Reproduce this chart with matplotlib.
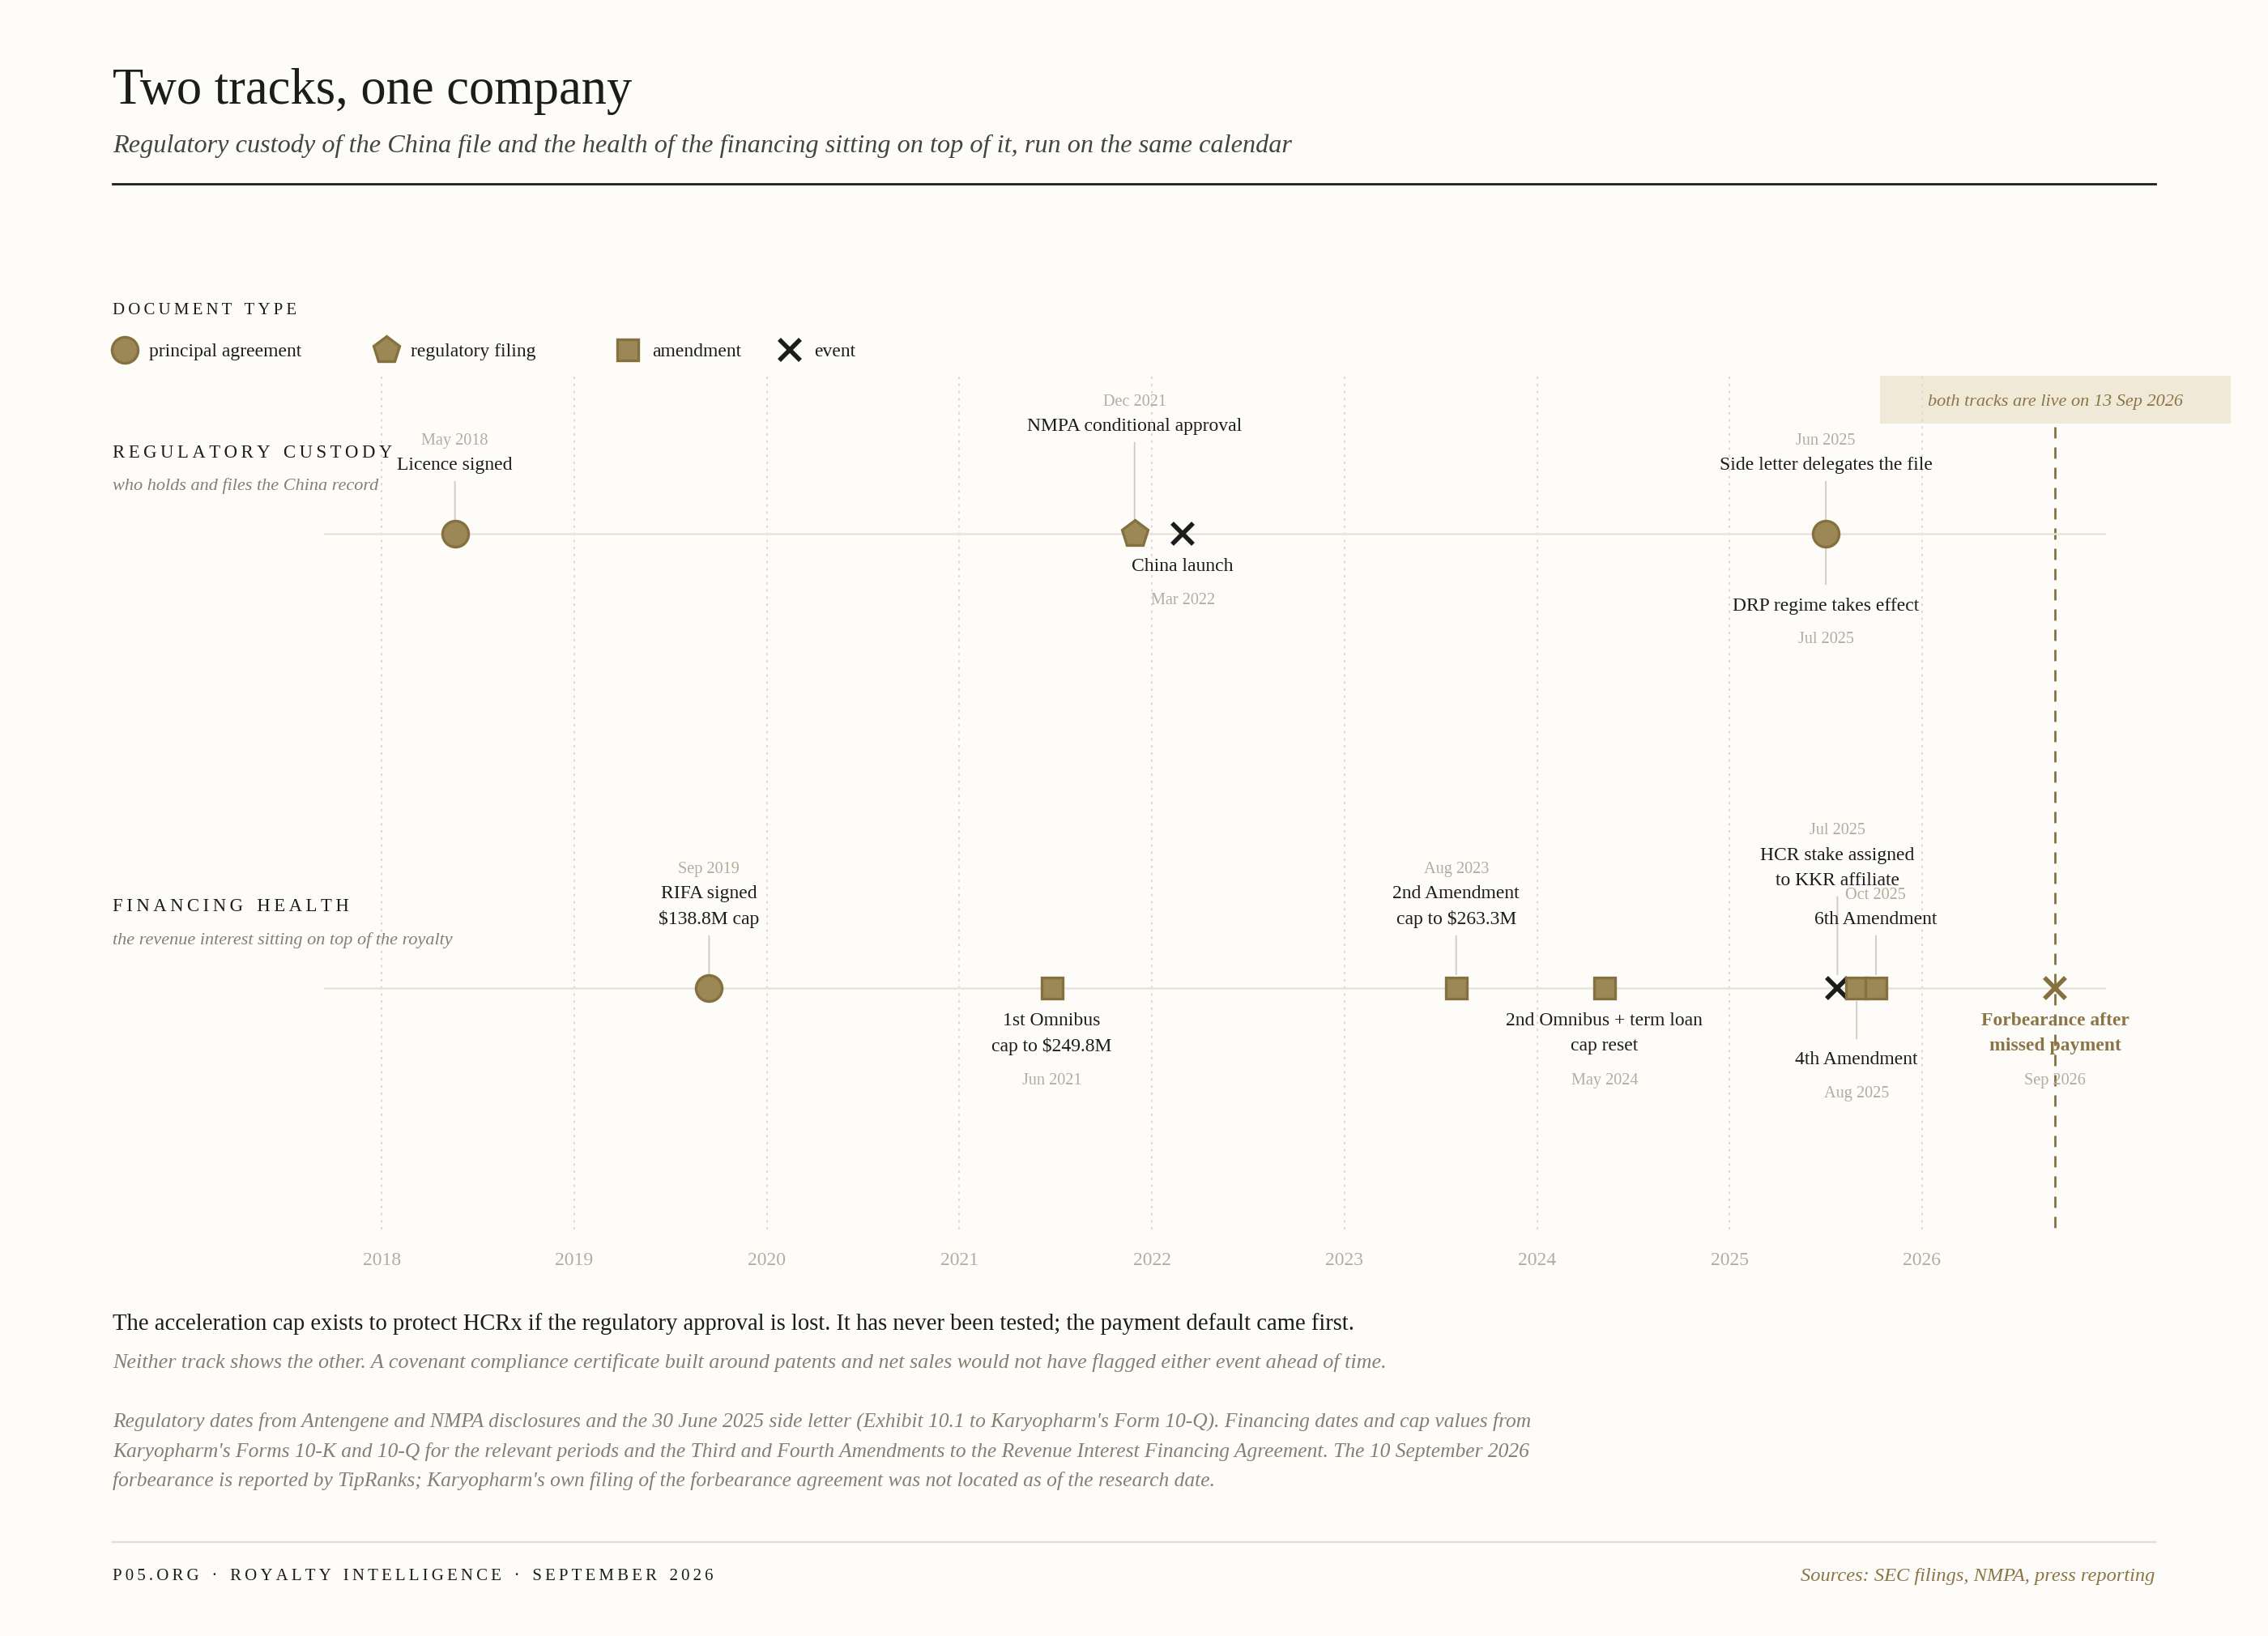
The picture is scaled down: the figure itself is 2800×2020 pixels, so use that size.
import matplotlib.pyplot as plt
from matplotlib.patches import Rectangle

# ---- data -------------------------------------------------------------
reg_dates = [2018.38, 2021.91, 2022.16, 2025.50, 2025.50]
reg_kinds = ["agreement", "filing", "event", "agreement", None]
reg_names = ["Licence signed", "NMPA conditional approval", "China launch",
             "Side letter delegates the file", "DRP regime takes effect"]
reg_stamps = ["May 2018", "Dec 2021", "Mar 2022", "Jun 2025", "Jul 2025"]
reg_sides = [1, 2, -1, 1, -2]

fin_dates = [2019.70, 2021.48, 2023.58, 2024.35, 2025.56, 2025.66, 2025.76, 2026.69]
fin_kinds = ["agreement", "amendment", "amendment", "amendment", "event",
             "amendment", "amendment", "final"]
fin_names = ["RIFA signed\n$138.8M cap", "1st Omnibus\ncap to $249.8M",
             "2nd Amendment\ncap to $263.3M", "2nd Omnibus + term loan\ncap reset",
             "HCR stake assigned\nto KKR affiliate", "4th Amendment",
             "6th Amendment", "Forbearance after\nmissed payment"]
fin_stamps = ["Sep 2019", "Jun 2021", "Aug 2023", "May 2024", "Jul 2025",
              "Aug 2025", "Oct 2025", "Sep 2026"]
fin_sides = [1, -1, 1, -1, 2, -2, 1, -1]

years = list(range(2018, 2027))
live_date = 2026.69

# ---- style ------------------------------------------------------------
BG = "#fdfcf8"
GOLD = "#9c8757"
GOLD_EDGE = "#85703f"
GOLD_TXT = "#8b7546"
INK = "#1c1c1c"
GREY = "#b3ad9f"
MUTED = "#857f73"
PX = 0.643  # reference pixel -> points
plt.rcParams["font.family"] = ["Liberation Serif", "DejaVu Serif"]


def spaced(s):
    # letter-spaced small caps look
    return "   ".join("\u2009".join(w) for w in s.split(" "))


fig = plt.figure(figsize=(14, 10.1), dpi=200, facecolor=BG)
bg = fig.add_axes([0, 0, 1, 1])
bg.set_xlim(0, 1568)
bg.set_ylim(1131, 0)
bg.axis("off")
bg.set_facecolor(BG)

MARK = {
    "agreement": dict(marker="o", ms=18 * PX, mfc=GOLD, mec=GOLD_EDGE, mew=1.2),
    "filing": dict(marker="p", ms=19 * PX, mfc=GOLD, mec=GOLD_EDGE, mew=1.2),
    "amendment": dict(marker="s", ms=15 * PX, mfc=GOLD, mec=GOLD_EDGE, mew=1.2),
    "event": dict(marker="x", ms=15 * PX, mec=INK, mew=2.0),
    "final": dict(marker="x", ms=15 * PX, mec=GOLD_EDGE, mew=2.0),
}

# header
bg.text(78, 63, "Two tracks, one company", fontsize=22.5, color=INK, va="center")
bg.text(78, 101, "Regulatory custody of the China file and the health of the financing "
        "sitting on top of it, run on the same calendar",
        fontsize=11.6, style="italic", color="#444444", va="center")
bg.plot([78, 1490], [127, 127], color=INK, lw=1.0)

# legend
bg.text(78, 215, spaced("DOCUMENT TYPE"), fontsize=7.5, color=INK, va="center")
for x, kind, lab in [(86, "agreement", "principal agreement"),
                     (267, "filing", "regulatory filing"),
                     (434, "amendment", "amendment"),
                     (546, "event", "event")]:
    bg.plot([x], [242], ls="none", **MARK[kind])
    bg.text(x + 17, 243, lab, fontsize=8.5, color=INK, va="center")

# track titles
for y, title, sub in [(313, "REGULATORY CUSTODY", "who holds and files the China record"),
                      (627, "FINANCING HEALTH", "the revenue interest sitting on top of the royalty")]:
    bg.text(78, y, spaced(title), fontsize=8.2, color=INK, va="center")
    bg.text(78, y + 23, sub, fontsize=8, style="italic", color=MUTED, va="center")

# ---- timeline axes ----------------------------------------------------
ax = fig.add_axes([224 / 1568, 1 - 850 / 1131, (1456 - 224) / 1568, (850 - 260) / 1131])
ax.set_facecolor("none")
ax.set_xlim(2017.70, 2026.955)
ax.set_ylim(850, 260)
for s in ax.spines.values():
    s.set_visible(False)
ax.set_yticks([])
ax.set_xticks(years)
ax.set_xticklabels([str(y) for y in years], fontsize=8.5, color=GREY)
ax.tick_params(axis="x", length=0, pad=10)
for y in years:
    ax.axvline(y, color="#dedad0", lw=0.7, ls=(0, (1.5, 3)), zorder=0)

ax.plot([live_date, live_date], [295, 850], color=GOLD_EDGE, lw=1.0, ls=(0, (5, 4)), zorder=1)

REG_Y, FIN_Y = 369, 683
STEM = "#d2cdc2"


def draw_track(track_y, dates, kinds, names, stamps, sides):
    ax.axhline(track_y, color="#e8e4da", lw=0.9, zorder=1)
    for d, k, n, st, sd in zip(dates, kinds, names, stamps, sides):
        nlines = n.count("\n") + 1
        final = k == "final"
        col = GOLD_TXT if final else INK
        weight = "bold" if final else "normal"
        if sd > 0:
            base = 49 if sd == 1 else 76
            ax.annotate(n, (d, track_y), xytext=(0, (base - 5) * PX), textcoords="offset points",
                        ha="center", va="baseline", fontsize=8.5, color=col,
                        linespacing=1.6, weight=weight)
            ax.annotate(st, (d, track_y), xytext=(0, (base + 18 * (nlines - 1) + 15) * PX),
                        textcoords="offset points", ha="center", va="center",
                        fontsize=7.3, color=GREY)
            ax.annotate("", (d, track_y), xytext=(0, (base - 13) * PX),
                        textcoords="offset points",
                        arrowprops=dict(arrowstyle="-", color=STEM, lw=0.7,
                                        shrinkA=0, shrinkB=6))
        else:
            first = 22 if sd == -1 else 49
            ax.annotate(n, (d, track_y), xytext=(0, -(first - 5) * PX), textcoords="offset points",
                        ha="center", va="top", fontsize=8.5, color=col,
                        linespacing=1.6, weight=weight)
            ax.annotate(st, (d, track_y), xytext=(0, -(first + 18 * (nlines - 1) + 24) * PX),
                        textcoords="offset points", ha="center", va="center",
                        fontsize=7.3, color=GREY)
            if sd == -2:
                ax.annotate("", (d, track_y), xytext=(0, -(first - 14) * PX),
                            textcoords="offset points",
                            arrowprops=dict(arrowstyle="-", color=STEM, lw=0.7,
                                            shrinkA=0, shrinkB=6))
        if k is not None:
            ax.plot([d], [track_y], ls="none", zorder=4, **MARK[k])


draw_track(REG_Y, reg_dates, reg_kinds, reg_names, reg_stamps, reg_sides)
draw_track(FIN_Y, fin_dates, fin_kinds, fin_names, fin_stamps, fin_sides)

# live-date tag
bg.add_patch(Rectangle((1300, 260), 242, 33, facecolor="#f1e9d8", edgecolor="none", zorder=5))
bg.text(1421, 278, "both tracks are live on 13 Sep 2026", fontsize=8, style="italic",
        color=GOLD_TXT, ha="center", va="center", zorder=6)

# ---- notes ------------------------------------------------------------
bg.text(78, 915, "The acceleration cap exists to protect HCRx if the regulatory approval is lost. "
        "It has never been tested; the payment default came first.",
        fontsize=10.3, color=INK, va="center")
bg.text(78, 942, "Neither track shows the other. A covenant compliance certificate built around "
        "patents and net sales would not have flagged either event ahead of time.",
        fontsize=9.4, style="italic", color=MUTED, va="center")
notes = ["Regulatory dates from Antengene and NMPA disclosures and the 30 June 2025 side letter "
         "(Exhibit 10.1 to Karyopharm's Form 10-Q). Financing dates and cap values from",
         "Karyopharm's Forms 10-K and 10-Q for the relevant periods and the Third and Fourth "
         "Amendments to the Revenue Interest Financing Agreement. The 10 September 2026",
         "forbearance is reported by TipRanks; Karyopharm's own filing of the forbearance "
         "agreement was not located as of the research date."]
for i, line in enumerate(notes):
    bg.text(78, 983 + 20.5 * i, line, fontsize=9.2, style="italic", color=MUTED, va="center")

bg.plot([78, 1490], [1066, 1066], color="#e2ded4", lw=0.8)
bg.text(78, 1090, spaced("P05.ORG · ROYALTY INTELLIGENCE · SEPTEMBER 2026"),
        fontsize=7.5, color=INK, va="center")
bg.text(1490, 1090, "Sources: SEC filings, NMPA, press reporting", fontsize=8.8,
        style="italic", color=GOLD_TXT, ha="right", va="center")

fig.savefig("out.png", dpi=200, facecolor=BG)
